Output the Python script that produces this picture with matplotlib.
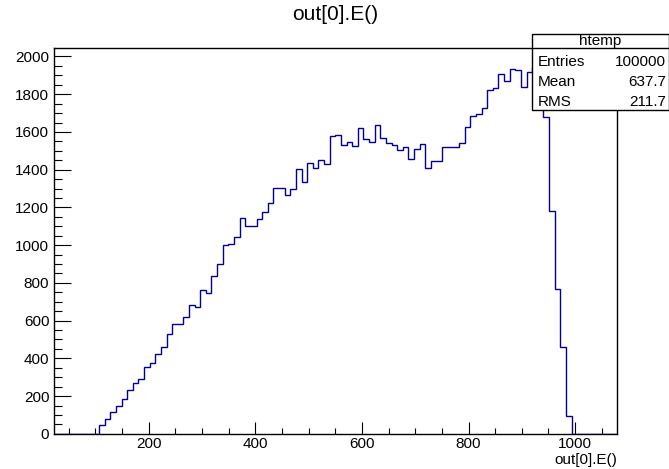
import numpy as np
import matplotlib
matplotlib.use("Agg")
import matplotlib.pyplot as plt
from matplotlib.patches import Rectangle
from matplotlib.lines import Line2D
from matplotlib.ticker import MultipleLocator

plt.rcParams['font.family'] = ['Liberation Sans', 'DejaVu Sans']

# Histogram "htemp": 100 equal bins of out[0].E()
x_min, x_max = 22.2, 1077.6
n_bins = 100
first_bin = 8
counts_filled = [
    47, 77, 116, 146, 185, 234, 271, 290, 352, 375,
    423, 458, 531, 580, 580, 617, 681, 672, 764, 746,
    835, 898, 1001, 1008, 1041, 1146, 1100, 1102, 1139, 1176,
    1223, 1305, 1303, 1266, 1299, 1404, 1335, 1434, 1411, 1453,
    1430, 1579, 1584, 1531, 1545, 1527, 1619, 1561, 1545, 1635,
    1568, 1540, 1533, 1503, 1519, 1455, 1511, 1536, 1407, 1446,
    1446, 1522, 1522, 1522, 1540, 1626, 1686, 1695, 1729, 1822,
    1831, 1907, 1872, 1935, 1928, 1840, 1916, 1946, 1933, 1681,
    1183, 766, 458, 96,
]
stat_names = ["Entries", "Mean", "RMS"]
stat_values = ["100000", "637.7", "211.7"]
hist_name = "htemp"
title = "out[0].E()"
x_title = "out[0].E()"

counts = np.zeros(n_bins)
counts[first_bin:first_bin + len(counts_filled)] = counts_filled
edges = np.linspace(x_min, x_max, n_bins + 1)

W, H = 669, 469
fig = plt.figure(figsize=(W / 100, H / 100), dpi=100)
fig.patch.set_facecolor("white")

# frame in pixel coordinates
left, right, top, bottom = 54, 616.5, 48.3, 433.8
ax = fig.add_axes([left / W, 1 - bottom / H, (right - left) / W, (bottom - top) / H])

ax.stairs(counts, edges, baseline=0, color="#000099", linewidth=1.0)
ax.set_xlim(x_min, x_max)
ax.set_ylim(0, 1.05 * counts.max())

for s in ax.spines.values():
    s.set_linewidth(1.0)
    s.set_color("black")

ax.xaxis.set_major_locator(MultipleLocator(200))
ax.xaxis.set_minor_locator(MultipleLocator(50))
ax.yaxis.set_major_locator(MultipleLocator(200))
ax.yaxis.set_minor_locator(MultipleLocator(50))
ax.tick_params(axis="x", which="major", direction="in", length=8.4, width=0.8,
               labelsize=11, pad=2.5, top=False)
ax.tick_params(axis="x", which="minor", direction="in", length=4.2, width=0.8, top=False)
ax.tick_params(axis="y", which="major", direction="in", length=12.2, width=0.8,
               labelsize=11, pad=3.4, right=False)
ax.tick_params(axis="y", which="minor", direction="in", length=6.1, width=0.8, right=False)

# histogram title
fig.text(335 / W, 1 - 15 / H, title, ha="center", va="center", fontsize=15)

# axis title at the right end of the x axis
fig.text(617 / W, 1 - 460 / H, x_title, ha="right", va="center", fontsize=11)

# statistics box
bx0, bx1, by0, by1 = 532.3, 668.5, 34.3, 110.5
fig.patches.append(Rectangle((bx0 / W, 1 - by1 / H), (bx1 - bx0) / W, (by1 - by0) / H,
                             transform=fig.transFigure, facecolor="white",
                             edgecolor="black", linewidth=1.0, zorder=5))
sep_y = 1 - 48.5 / H
fig.lines.append(Line2D([bx0 / W, bx1 / W], [sep_y, sep_y], transform=fig.transFigure,
                        color="black", linewidth=1.0, zorder=6))
fig.text((bx0 + bx1) / 2 / W, 1 - 41.3 / H, hist_name, ha="center", va="center",
         fontsize=11, zorder=7)
row_y = [62.5, 82.0, 101.5]
for name, val, yy in zip(stat_names, stat_values, row_y):
    fig.text(538 / W, 1 - yy / H, name, ha="left", va="center", fontsize=11, zorder=7)
    fig.text(666 / W, 1 - yy / H, val, ha="right", va="center", fontsize=11, zorder=7)

fig.savefig("out.png", dpi=100)
